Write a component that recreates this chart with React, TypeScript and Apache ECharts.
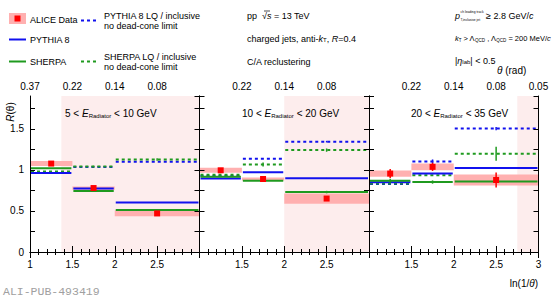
import React, { useEffect, useRef } from 'react';
import * as echarts from 'echarts';

// ---- data ----
const binEdges = [1, 1.5, 2, 3];
const binCenters = [1.25, 1.75, 2.5];
const eLow = [5, 10, 20];
const eHigh = [10, 20, 35];
const shadeStart = [1.37, 2.0, 2.75];
const shadeEnd = [3, 3, 3];

const aliceData = [
  [1.077, 0.779, 0.47],
  [0.995, 0.889, 0.651],
  [0.955, 1.037, 0.877],
];
const aliceStat = [
  [0.02, 0.02, 0.03],
  [0.02, 0.02, 0.03],
  [0.055, 0.05, 0.09],
];
const aliceSys = [
  [0.03, 0.02, 0.035],
  [0.03, 0.018, 0.062],
  [0.038, 0.04, 0.068],
];
const pythia = [
  [0.963, 0.774, 0.602],
  [0.895, 0.971, 0.897],
  [0.848, 0.955, 1.024],
];
const pythiaErr = [
  [0, 0, 0],
  [0, 0, 0.005],
  [0, 0, 0.012],
];
const sherpa = [
  [1.02, 0.742, 0.512],
  [0.915, 0.868, 0.73],
  [0.868, 0.852, 0.86],
];
const sherpaErr = [
  [0, 0, 0],
  [0, 0.01, 0.015],
  [0.025, 0.02, 0.02],
];
const pythiaLQ = [
  [0.97, 1.035, 1.1],
  [0.925, 1.135, 1.344],
  [0.828, 1.102, 1.503],
];
const pythiaLQErr = [
  [0, 0, 0],
  [0, 0, 0.01],
  [0, 0.025, 0.02],
];
const sherpaLQ = [
  [0.979, 1.04, 1.127],
  [0.942, 1.065, 1.241],
  [0.835, 0.934, 1.196],
];
const sherpaLQErr = [
  [0, 0.01, 0.015],
  [0, 0.025, 0.02],
  [0, 0, 0.085],
];

const bottomTicks = [1, 1.5, 2, 2.5, 3];
const topTickLabels = ['0.37', '0.22', '0.14', '0.08', '0.05'];
const bottomShown = [
  [1, 1.5, 2, 2.5],
  [1.5, 2, 2.5],
  [1.5, 2, 2.5, 3],
];
const yLabelTicks = [0, 0.5, 1, 1.5];

// ---- layout ----
const FONT = '"Liberation Sans", Arial, Helvetica, sans-serif';
const panelLeft = [30, 199.5, 369];
const panelWidth = 169.5;
const panelTop = 96;
const panelHeight = 156;
const Y_MAX = 1.9;
const BLUE = '#1111ee';
const GREEN = '#1f9a1f';
const PINK_BOX = '#ffb0b0';
const SHADE = '#fdeded';
const RED = '#ff0000';

const near = (a: number, b: number) => Math.abs(a - b) < 1e-6;

function buildOption() {
  const grid: any[] = [];
  const xAxis: any[] = [];
  const yAxis: any[] = [];
  const series: any[] = [];
  const axisLine = { show: true, lineStyle: { color: '#000', width: 1 } };

  for (let p = 0; p < 3; p++) {
    grid.push({ left: panelLeft[p], top: panelTop, width: panelWidth, height: panelHeight, show: false });
    xAxis.push({
      type: 'value', gridIndex: p, position: 'bottom', min: 1, max: 3, interval: 0.5, z: 10,
      axisLine, splitLine: { show: false },
      axisTick: { show: true, inside: true, length: 6, lineStyle: { color: '#000' } },
      minorTick: { show: true, splitNumber: 5, length: 3, lineStyle: { color: '#000' } },
      axisLabel: {
        show: true, showMinLabel: true, showMaxLabel: true, hideOverlap: false,
        fontSize: 10, fontFamily: FONT, color: '#000', margin: 7,
        formatter: (v: number) => (bottomShown[p].some((s) => near(s, v)) ? String(v) : ''),
      },
    });
    xAxis.push({
      type: 'value', gridIndex: p, position: 'top', min: 1, max: 3, interval: 0.5, z: 10,
      axisLine, splitLine: { show: false },
      axisTick: { show: true, inside: true, length: 6, lineStyle: { color: '#000' } },
      minorTick: { show: true, splitNumber: 5, length: 3, lineStyle: { color: '#000' } },
      axisLabel: {
        show: true, showMinLabel: true, showMaxLabel: true, hideOverlap: false,
        fontSize: 10, fontFamily: FONT, color: '#000', margin: 5,
        formatter: (v: number) => {
          if (!bottomShown[p].some((s) => near(s, v))) return '';
          const k = bottomTicks.findIndex((t) => near(t, v));
          return k >= 0 ? topTickLabels[k] : '';
        },
      },
    });
    yAxis.push({
      type: 'value', gridIndex: p, position: 'left', min: 0, max: Y_MAX, interval: 0.25, z: 10,
      axisLine, splitLine: { show: false },
      axisTick: { show: true, inside: true, length: 5, lineStyle: { color: '#000' } },
      axisLabel: {
        show: p === 0, showMinLabel: true, showMaxLabel: false, hideOverlap: false,
        fontSize: 10, fontFamily: FONT, color: '#000', margin: 6,
        formatter: (v: number) => (yLabelTicks.some((s) => near(s, v)) ? String(v) : ''),
      },
    });
    yAxis.push({
      type: 'value', gridIndex: p, position: 'right', min: 0, max: Y_MAX, interval: 0.25, z: 10,
      axisLine, splitLine: { show: false },
      axisTick: { show: true, inside: true, length: 5, lineStyle: { color: '#000' } },
      axisLabel: { show: false },
    });

    const xi = p * 2;
    const yi = p * 2;

    // dead-cone shading
    series.push({
      type: 'custom', xAxisIndex: xi, yAxisIndex: yi, z: 1, silent: true,
      data: [[shadeStart[p], shadeEnd[p]]],
      encode: { x: [0, 1] },
      renderItem: (_: any, api: any) => {
        const a = api.coord([api.value(0), Y_MAX]);
        const b = api.coord([api.value(1), 0]);
        return { type: 'rect', shape: { x: a[0], y: a[1], width: b[0] - a[0], height: b[1] - a[1] }, style: { fill: SHADE } };
      },
    });

    // systematic boxes
    series.push({
      type: 'custom', xAxisIndex: xi, yAxisIndex: yi, z: 2, silent: true,
      data: aliceData[p].map((v, k) => [binEdges[k], binEdges[k + 1], v, aliceSys[p][k]]),
      encode: { x: [0, 1], y: 2 },
      renderItem: (_: any, api: any) => {
        const y = api.value(2), s = api.value(3);
        const a = api.coord([api.value(0), y + s]);
        const b = api.coord([api.value(1), y - s]);
        return { type: 'rect', shape: { x: a[0], y: a[1], width: b[0] - a[0], height: b[1] - a[1] }, style: { fill: PINK_BOX } };
      },
    });

    const model = (vals: number[], errs: number[], color: string, dashed: boolean, z: number) => ({
      type: 'custom', xAxisIndex: xi, yAxisIndex: yi, z, silent: true,
      data: vals.map((v, k) => [binEdges[k], binEdges[k + 1], v, errs[k], binCenters[k]]),
      encode: { x: [0, 1], y: 2 },
      renderItem: (_: any, api: any) => {
        const y = api.value(2), e = api.value(3), xc = api.value(4);
        const a = api.coord([api.value(0), y]);
        const b = api.coord([api.value(1), y]);
        const style: any = { stroke: color, lineWidth: 2 };
        if (dashed) style.lineDash = [3, 3];
        const children: any[] = [{ type: 'line', shape: { x1: a[0] + 1, y1: a[1], x2: b[0] - 1, y2: b[1] }, style }];
        if (e > 0) {
          const t = api.coord([xc, y + e]);
          const u = api.coord([xc, y - e]);
          children.push({ type: 'line', shape: { x1: t[0], y1: t[1], x2: u[0], y2: u[1] }, style: { stroke: color, lineWidth: 1.5 } });
        }
        return { type: 'group', children };
      },
    });
    series.push(model(pythiaLQ[p], pythiaLQErr[p], BLUE, true, 3));
    series.push(model(sherpaLQ[p], sherpaLQErr[p], GREEN, true, 4));
    series.push(model(pythia[p], pythiaErr[p], BLUE, false, 5));
    series.push(model(sherpa[p], sherpaErr[p], GREEN, false, 6));

    // data points
    series.push({
      type: 'custom', xAxisIndex: xi, yAxisIndex: yi, z: 8, silent: true,
      data: aliceData[p].map((v, k) => [binCenters[k], v, aliceStat[p][k]]),
      encode: { x: 0, y: 1 },
      renderItem: (_: any, api: any) => {
        const x = api.value(0), y = api.value(1), e = api.value(2);
        const c = api.coord([x, y]);
        const t = api.coord([x, y + e]);
        const u = api.coord([x, y - e]);
        return {
          type: 'group',
          children: [
            { type: 'line', shape: { x1: t[0], y1: t[1], x2: u[0], y2: u[1] }, style: { stroke: RED, lineWidth: 1.5 } },
            { type: 'rect', shape: { x: c[0] - 3, y: c[1] - 3, width: 6, height: 6 }, style: { fill: RED } },
          ],
        };
      },
    });
  }

  const txt = (x: number, y: number, text: string, extra: any = {}) => ({
    type: 'text', x, y, silent: true, z: 100,
    style: {
      text, fill: '#000', fontSize: 9, fontFamily: FONT,
      textAlign: 'left', textVerticalAlign: 'middle',
      ...extra,
    },
  });
  const richBase = {
    i: { fontStyle: 'italic', fontSize: 9, fontFamily: FONT },
    sub: { fontSize: 6, fontFamily: FONT, verticalAlign: 'bottom', lineHeight: 6 },
    ti: { fontStyle: 'italic', fontSize: 10, fontFamily: FONT },
    tsub: { fontSize: 6, fontFamily: FONT, verticalAlign: 'bottom', lineHeight: 6 },
  };
  const richSmall = {
    n: { fontSize: 7.5, fontFamily: FONT },
    i: { fontStyle: 'italic', fontSize: 7.5, fontFamily: FONT },
    sub: { fontSize: 4.5, fontFamily: FONT, verticalAlign: 'bottom', lineHeight: 5 },
  };

  const graphic: any[] = [];
  const gline = (x1: number, y1: number, x2: number, y2: number, stroke: string, dash?: number[], w = 2) => ({
    type: 'line', silent: true, z: 100, shape: { x1, y1, x2, y2 },
    style: dash ? { stroke, lineWidth: w, lineDash: dash } : { stroke, lineWidth: w },
  });
  // legend
  graphic.push({ type: 'rect', silent: true, z: 100, shape: { x: 9, y: 13, width: 17, height: 11 }, style: { fill: PINK_BOX } });
  graphic.push({ type: 'rect', silent: true, z: 101, shape: { x: 14.5, y: 15.5, width: 6, height: 6 }, style: { fill: RED } });
  graphic.push(txt(30, 19.5, 'ALICE Data'));
  graphic.push(gline(81, 20.5, 97, 20.5, BLUE, [3, 3]));
  graphic.push(txt(104, 16, 'PYTHIA 8 LQ / inclusive'));
  graphic.push(txt(104, 26, 'no dead-cone limit'));
  graphic.push(gline(9, 39.5, 26, 39.5, BLUE));
  graphic.push(txt(30, 40, 'PYTHIA 8'));
  graphic.push(gline(9, 61.5, 26, 61.5, GREEN));
  graphic.push(txt(30, 61.5, 'SHERPA'));
  graphic.push(gline(81, 61.5, 97, 61.5, GREEN, [3, 3]));
  graphic.push(txt(104, 56.5, 'SHERPA LQ / inclusive'));
  graphic.push(txt(104, 66.5, 'no dead-cone limit'));

  // header texts (middle column)
  graphic.push(txt(247, 15.5, 'pp  √{i|s} = 13 TeV', { rich: richBase }));
  graphic.push(gline(264, 11, 270, 11, '#000', undefined, 0.7));
  graphic.push(txt(247, 38.5, 'charged jets, anti-{i|k}{sub|T}, {i|R}=0.4', { rich: richBase }));
  graphic.push(txt(247, 61.5, 'C/A reclustering'));

  // right column
  graphic.push(txt(455, 15.5, '{i|p}', { rich: richBase }));
  graphic.push(txt(460.5, 11.5, 'ch leading track', { fontSize: 3.3 }));
  graphic.push(txt(460.5, 19.5, 'T,inclusive jet', { fontSize: 3.3 }));
  graphic.push(txt(486, 15.5, '≥ 2.8 GeV/{i|c}', { rich: richBase }));
  graphic.push(txt(455, 38.5, '{i|k}{sub|T}{n| > Λ}{sub|QCD}{n| , Λ}{sub|QCD}{n| = 200 MeV/}{i|c}', { fontSize: 7.5, rich: richSmall }));
  graphic.push(txt(455, 60.5, '|{i|η}{sub|lab}| < 0.5', { rich: richBase }));
  graphic.push(txt(497, 70.5, '{ti|θ} (rad)', { fontSize: 10, rich: richBase }));

  // panel titles
  const titleX = [65, 242, 411];
  for (let p = 0; p < 3; p++) {
    graphic.push(txt(titleX[p], 113.5, `${eLow[p]} < {ti|E}{tsub|Radiator} < ${eHigh[p]} GeV`, { fontSize: 10, rich: richBase }));
  }

  // axis titles
  graphic.push({
    type: 'text', x: 10, y: 112, rotation: Math.PI / 2, silent: true, z: 100,
    style: { text: '{ti|R}(θ)', fill: '#000', fontSize: 10, fontFamily: FONT, textAlign: 'center', textVerticalAlign: 'middle', rich: richBase },
  });
  graphic.push(txt(538, 283, 'ln(1/{ti|θ})', { fontSize: 10, textAlign: 'right', rich: richBase }));
  graphic.push(txt(3, 291, 'ALI-PUB-493419', { fontSize: 11.5, fontFamily: '"Liberation Mono", "DejaVu Sans Mono", monospace', fill: '#a0a0a0' }));

  return { animation: false, backgroundColor: '#fff', grid, xAxis, yAxis, series, graphic };
}

export default function App() {
  const ref = useRef<HTMLDivElement>(null);
  useEffect(() => {
    if (!ref.current) return;
    const chart = echarts.init(ref.current, undefined, { renderer: 'svg' });
    chart.setOption(buildOption() as any);
    return () => chart.dispose();
  }, []);
  return <div ref={ref} style={{ width: 552, height: 296, position: 'absolute', left: 0, top: 0 }} />;
}
